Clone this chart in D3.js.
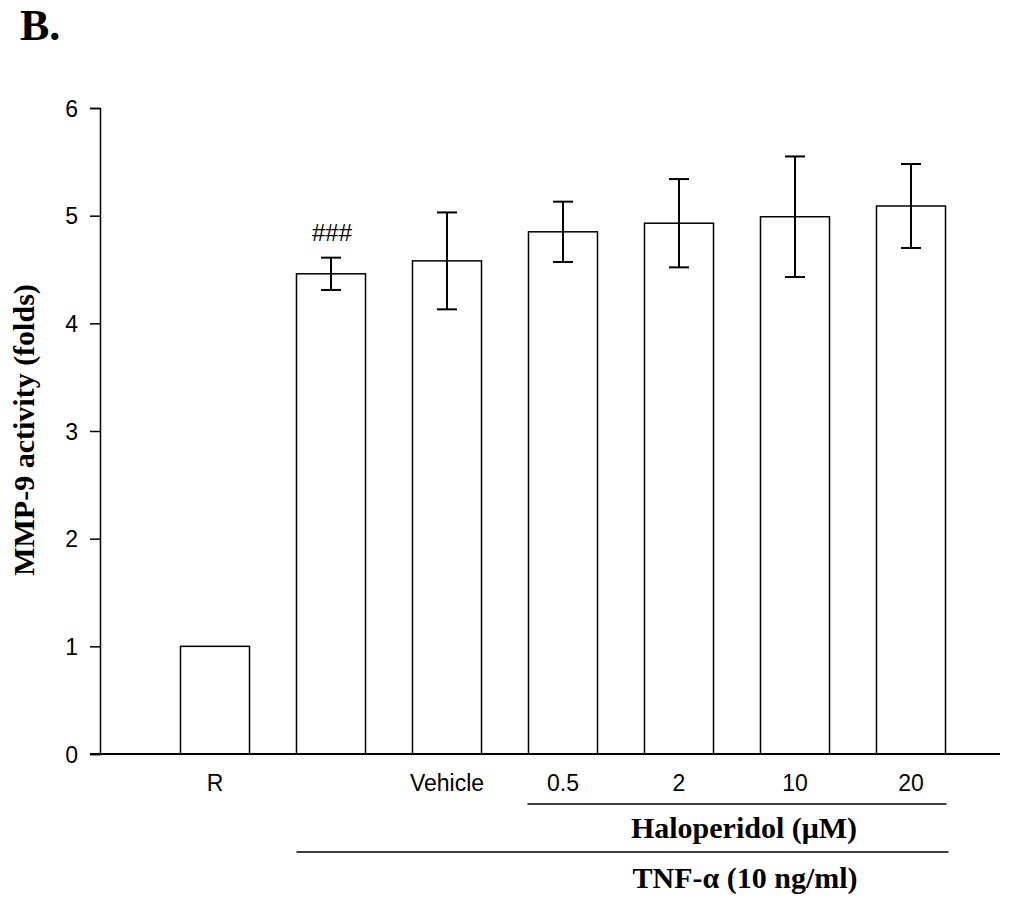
<!DOCTYPE html>
<html>
<head>
<meta charset="utf-8">
<script src="https://cdn.jsdelivr.net/npm/d3@7"></script>
<style>
  body { margin: 0; background: #fff; }
</style>
</head>
<body>
<div id="chart"></div>
<script>
// data
var categories = ["R", "TNF", "Vehicle", "0.5", "2", "10", "20"];
var tickLabels = ["R", "", "Vehicle", "0.5", "2", "10", "20"];
var means = [1.0, 4.46, 4.58, 4.85, 4.93, 4.99, 5.09];
var errors = [0, 0.15, 0.45, 0.28, 0.41, 0.56, 0.39];
var marks = ["", "###", "", "", "", "", ""];
var yTicks = [0, 1, 2, 3, 4, 5, 6];

var width = 1016, height = 900;
var sans = "Liberation Sans, Arial, sans-serif";
var serif = "Liberation Serif, Times New Roman, serif";

var svg = d3.select("#chart").append("svg")
    .attr("width", width).attr("height", height);

var x = d3.scaleBand().domain(categories).range([157, 969])
    .paddingInner(0.405).paddingOuter(0.2025);
var y = d3.scaleLinear().domain([0, 6]).range([754, 108]);

// y axis
var yAxis = d3.axisLeft(y).tickValues(yTicks).tickFormat(d3.format("d"))
    .tickSize(10).tickPadding(12);
var gy = svg.append("g").attr("transform", "translate(100,0)").call(yAxis);
gy.attr("font-family", sans).attr("font-size", 23);
gy.select(".domain").attr("stroke-width", 1.5);
gy.selectAll(".tick line").attr("stroke-width", 1.5);
gy.selectAll(".tick text").attr("fill", "#000").attr("dy", "0.36em");

// bars
svg.selectAll("rect.bar").data(categories).enter().append("rect")
    .attr("class", "bar")
    .attr("x", function (d) { return x(d); })
    .attr("y", function (d, i) { return y(means[i]); })
    .attr("width", x.bandwidth())
    .attr("height", function (d, i) { return y(0) - y(means[i]); })
    .attr("fill", "#fff").attr("stroke", "#000").attr("stroke-width", 1.5);

// error bars
var eb = svg.selectAll("g.err").data(categories.filter(function (d, i) { return errors[i] > 0; }))
    .enter().append("g").attr("class", "err");
eb.each(function (d) {
    var i = categories.indexOf(d);
    var cx = x(d) + x.bandwidth() / 2;
    var hi = y(means[i] + errors[i]), lo = y(means[i] - errors[i]);
    var g = d3.select(this);
    g.append("line").attr("x1", cx).attr("x2", cx).attr("y1", hi).attr("y2", lo);
    g.append("line").attr("x1", cx - 10).attr("x2", cx + 10).attr("y1", hi).attr("y2", hi);
    g.append("line").attr("x1", cx - 10).attr("x2", cx + 10).attr("y1", lo).attr("y2", lo);
});
eb.selectAll("line").attr("stroke", "#000").attr("stroke-width", 2);

// significance marks
svg.selectAll("text.mark").data(categories).enter().append("text")
    .attr("class", "mark")
    .attr("x", function (d) { return x(d) + x.bandwidth() / 2 + 1; })
    .attr("y", function (d, i) { return y(means[i] + errors[i]) - 17; })
    .attr("text-anchor", "middle")
    .attr("font-family", sans).attr("font-size", 24).attr("fill", "#000")
    .text(function (d, i) { return marks[i]; });

// x axis line
svg.append("line").attr("x1", 90).attr("x2", 1000)
    .attr("y1", y(0)).attr("y2", y(0))
    .attr("stroke", "#000").attr("stroke-width", 2);

// category labels
svg.selectAll("text.cat").data(categories).enter().append("text")
    .attr("class", "cat")
    .attr("x", function (d) { return x(d) + x.bandwidth() / 2; })
    .attr("y", 791)
    .attr("text-anchor", "middle")
    .attr("font-family", sans).attr("font-size", 23).attr("fill", "#000")
    .text(function (d, i) { return tickLabels[i]; });

// group brackets
var haloL = x("0.5") - 1, haloR = x("20") + x.bandwidth() + 1;
var tnfL = x("TNF"), tnfR = haloR + 2;
svg.append("line").attr("x1", haloL).attr("x2", haloR).attr("y1", 804).attr("y2", 804)
    .attr("stroke", "#000").attr("stroke-width", 1.5);
svg.append("line").attr("x1", tnfL).attr("x2", tnfR).attr("y1", 852).attr("y2", 852)
    .attr("stroke", "#000").attr("stroke-width", 1.5);

svg.append("text").attr("x", 744).attr("y", 838).attr("text-anchor", "middle")
    .attr("font-family", serif).attr("font-weight", "bold").attr("font-size", 30)
    .text("Haloperidol (\u03bcM)");
svg.append("text").attr("x", 745).attr("y", 888).attr("text-anchor", "middle")
    .attr("font-family", serif).attr("font-weight", "bold").attr("font-size", 30)
    .text("TNF-\u03b1 (10 ng/ml)");

// y label
svg.append("text").attr("transform", "translate(34,430) rotate(-90)")
    .attr("text-anchor", "middle")
    .attr("font-family", serif).attr("font-weight", "bold").attr("font-size", 30)
    .text("MMP-9 activity (folds)");

// panel letter
svg.append("text").attr("x", 20).attr("y", 40)
    .attr("font-family", serif).attr("font-weight", "bold").attr("font-size", 44)
    .text("B.");
</script>
</body>
</html>
